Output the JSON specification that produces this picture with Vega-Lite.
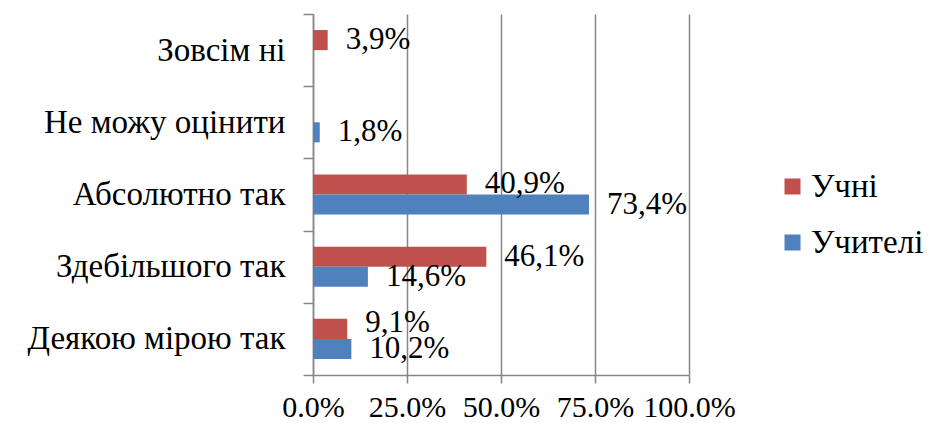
{
  "$schema": "https://vega.github.io/schema/vega-lite/v6.json",
  "width": 376,
  "height": 361,
  "autosize": {"type": "none"},
  "padding": {"left": 313, "top": 14, "right": 242, "bottom": 48},
  "background": "white",
  "config": {
    "view": {"stroke": null},
    "font": "'Times New Roman', 'Liberation Serif', 'DejaVu Serif', serif"
  },
  "data": {
    "values": [
      {"category": "Зовсім ні", "group": "Учні", "value": 3.9, "label": "3,9%"},
      {"category": "Зовсім ні", "group": "Учителі", "value": 0, "label": ""},
      {"category": "Не можу оцінити", "group": "Учні", "value": 0, "label": ""},
      {"category": "Не можу оцінити", "group": "Учителі", "value": 1.8, "label": "1,8%"},
      {"category": "Абсолютно так", "group": "Учні", "value": 40.9, "label": "40,9%"},
      {"category": "Абсолютно так", "group": "Учителі", "value": 73.4, "label": "73,4%"},
      {"category": "Здебільшого так", "group": "Учні", "value": 46.1, "label": "46,1%"},
      {"category": "Здебільшого так", "group": "Учителі", "value": 14.6, "label": "14,6%"},
      {"category": "Деякою мірою так", "group": "Учні", "value": 9.1, "label": "9,1%"},
      {"category": "Деякою мірою так", "group": "Учителі", "value": 10.2, "label": "10,2%"}
    ]
  },
  "encoding": {
    "y": {
      "field": "category",
      "type": "nominal",
      "sort": ["Зовсім ні", "Не можу оцінити", "Абсолютно так", "Здебільшого так", "Деякою мірою так"],
      "scale": {"paddingInner": 0, "paddingOuter": 0},
      "axis": {
        "title": null,
        "tickBand": "extent",
        "labelFontSize": 33,
        "labelColor": "black",
        "labelPadding": 18,
        "labelLimit": 400,
        "tickSize": 10,
        "tickColor": "#868686",
        "tickWidth": 1.5,
        "domainColor": "#868686",
        "domainWidth": 1.5
      }
    },
    "yOffset": {
      "field": "group",
      "type": "nominal",
      "sort": ["Учні", "Учителі"],
      "scale": {"paddingOuter": 0.8, "paddingInner": 0}
    },
    "x": {
      "field": "value",
      "type": "quantitative",
      "scale": {"domain": [0, 100], "nice": false},
      "axis": {
        "title": null,
        "values": [0, 25, 50, 75, 100],
        "labelExpr": "format(datum.value, '.1f') + '%'",
        "labelFontSize": 30,
        "labelColor": "black",
        "labelPadding": 9,
        "labelFlush": false,
        "labelOverlap": false,
        "labelBound": false,
        "tickSize": 8,
        "tickColor": "#868686",
        "tickWidth": 1.5,
        "domainColor": "#868686",
        "domainWidth": 1.5,
        "grid": true,
        "gridColor": "#868686",
        "gridWidth": 1.5
      }
    }
  },
  "layer": [
    {
      "mark": {"type": "bar"},
      "encoding": {
        "color": {
          "field": "group",
          "type": "nominal",
          "scale": {"domain": ["Учні", "Учителі"], "range": ["#C0504D", "#4F81BD"]},
          "legend": {
            "title": null,
            "orient": "none",
            "legendX": 463,
            "legendY": 156,
            "symbolType": "square",
            "symbolSize": 256,
            "symbolStrokeWidth": 0,
            "labelFontSize": 33,
            "labelColor": "black",
            "labelOffset": 2,
            "rowPadding": 22
          }
        }
      }
    },
    {
      "transform": [{"filter": "datum.value > 0 && !(datum.category == 'Деякою мірою так' && datum.group == 'Учні')"}],
      "mark": {"type": "text", "align": "left", "baseline": "middle", "dx": 18, "fontSize": 31, "color": "black"},
      "encoding": {"text": {"field": "label"}}
    },
    {
      "transform": [{"filter": "datum.category == 'Деякою мірою так' && datum.group == 'Учні'"}],
      "mark": {"type": "text", "align": "left", "baseline": "middle", "dx": 18, "dy": -6, "fontSize": 31, "color": "black"},
      "encoding": {"text": {"field": "label"}}
    }
  ]
}
